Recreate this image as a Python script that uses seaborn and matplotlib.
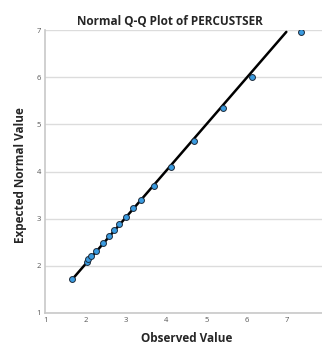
import numpy as np
import pandas as pd
import seaborn as sns
import matplotlib
matplotlib.use("Agg")
import matplotlib.pyplot as plt

# valeurs
observed = [1.66, 2.03, 2.07, 2.14, 2.27, 2.43, 2.58, 2.71, 2.84, 3.01,
            3.19, 3.38, 3.69, 4.11, 4.68, 5.40, 6.13, 7.34]
expected = [1.72, 2.09, 2.14, 2.21, 2.32, 2.49, 2.64, 2.76, 2.88, 3.04,
            3.22, 3.40, 3.70, 4.10, 4.65, 5.34, 6.01, 6.96]
line_x = [1.66, 6.98]
line_y = [1.70, 6.96]
ticks = [1, 2, 3, 4, 5, 6, 7]

df = pd.DataFrame({"Observed Value": observed, "Expected Normal Value": expected})

sns.set_style("white")
plt.rcParams["font.family"] = ["Open Sans", "DejaVu Sans"]

fig = plt.figure(figsize=(3.22, 3.47), dpi=100)
ax = fig.add_axes([0.140, 0.098, 0.862, 0.8155])

for t in ticks:
    ax.axhline(t, color="#dcdcdc", lw=1.0, zorder=0)

ax.plot(line_x, line_y, color="black", lw=1.8, zorder=2)
sns.scatterplot(data=df, x="Observed Value", y="Expected Normal Value", ax=ax,
                color="#3a9be0", edgecolor="#1c2a3a", linewidth=0.7, s=18, zorder=3)

ax.set_xlim(1, 7.88)
ax.set_ylim(1, 7)
ax.set_xticks(ticks)
ax.set_yticks(ticks)
ax.tick_params(axis="both", labelsize=5.5, labelcolor="#555555", length=0, pad=3)
for side in ["top", "right"]:
    ax.spines[side].set_visible(False)
for side in ["left", "bottom"]:
    ax.spines[side].set_color("#c8c8c8")
    ax.spines[side].set_linewidth(1.2)

# titres places a la main (positions)
ax.set_xlabel("")
ax.set_ylabel("")
fig.text(187 / 322, 1 - 339 / 347, "Observed Value",
         ha="center", va="center", fontsize=8.5, fontweight="bold")
fig.text(21 / 322, 1 - 175 / 347, "Expected Normal Value", rotation=90,
         ha="center", va="center", fontsize=8.5, fontweight="bold")
fig.text(170 / 322, 1 - 21.5 / 347, "Normal Q-Q Plot of PERCUSTSER",
         ha="center", va="center", fontsize=8.5, fontweight="bold")

fig.savefig("out.png", dpi=100)
